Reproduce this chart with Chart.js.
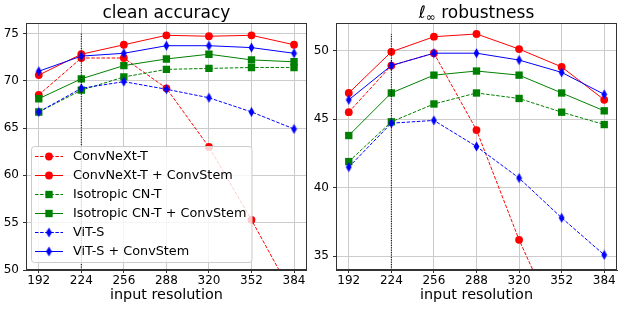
<!DOCTYPE html>
<html>
<head>
<meta charset="utf-8">
<script src="https://cdn.jsdelivr.net/npm/chart.js@4/dist/chart.umd.min.js"></script>
<style>
  body { margin: 0; background: #fff; }
  #wrap { position: relative; width: 623px; height: 309px; }
  #graficoLimpio { position: absolute; left: 0; top: 0; }
  #graficoRobusto { position: absolute; left: 310px; top: 0; }
</style>
</head>
<body>
<div id="wrap">
  <canvas id="graficoLimpio" width="312" height="309"></canvas>
  <canvas id="graficoRobusto" width="313" height="309"></canvas>
</div>
<script>
// Datos
const resoluciones = [192, 224, 256, 288, 320, 352, 384];
const etiquetas = ['ConvNeXt-T', 'ConvNeXt-T + ConvStem', 'Isotropic CN-T',
                   'Isotropic CN-T + ConvStem', 'ViT-S', 'ViT-S + ConvStem'];

// clean accuracy
const limpioConvnext     = [68.5, 72.4, 72.4, 69.2, 63.0, 55.3, 47.1];
const limpioConvnextStem = [70.6, 72.8, 73.8, 74.8, 74.7, 74.8, 73.8];
const limpioIso          = [66.7, 69.0, 70.4, 71.2, 71.3, 71.4, 71.4];
const limpioIsoStem      = [68.1, 70.2, 71.6, 72.3, 72.8, 72.2, 72.0];
const limpioVit          = [66.7, 69.2, 69.9, 69.1, 68.2, 66.7, 64.9];
const limpioVitStem      = [71.0, 72.6, 72.9, 73.7, 73.7, 73.5, 72.9];

// l-inf robustness
const robustoConvnext     = [45.5, 48.9, 49.8, 44.2, 36.2, 29.4, 22.5];
const robustoConvnextStem = [46.9, 49.9, 51.0, 51.2, 50.1, 48.8, 46.4];
const robustoIso          = [41.9, 44.8, 46.1, 46.9, 46.5, 45.5, 44.6];
const robustoIsoStem      = [43.8, 46.9, 48.2, 48.5, 48.2, 46.9, 45.6];
const robustoVit          = [41.5, 44.7, 44.9, 43.0, 40.7, 37.8, 35.1];
const robustoVitStem      = [46.4, 48.9, 49.8, 49.8, 49.3, 48.4, 46.8];

const ticksLimpio = [50, 55, 60, 65, 70, 75];
const ticksRobusto = [35, 40, 45, 50];

// resolucion de referencia (linea punteada vertical)
const resolucionBase = 224;
const lineaBaseLimpio = [50, 75];
const lineaBaseRobusto = [34, 51.2];

const FUENTE = 'DejaVu Sans';
const colores = ['#ff0000', '#ff0000', '#008000', '#008000', '#0000ff', '#0000ff'];
const punteadas = [true, false, true, false, true, false];

function diamanteFino(color) {
    const c = document.createElement('canvas');
    c.width = 7; c.height = 11;
    const g = c.getContext('2d');
    g.fillStyle = color;
    g.beginPath();
    g.moveTo(3.5, 0.5); g.lineTo(6.4, 5.5); g.lineTo(3.5, 10.5); g.lineTo(0.6, 5.5);
    g.closePath();
    g.fill();
    return c;
}
const diamante = diamanteFino('#0000ff');
const marcadores = ['circle', 'circle', 'rect', 'rect', diamante, diamante];
const radios = [3.9, 3.9, 5.2, 5.2, 4, 4];

function armarDatasets(series, lineaBase) {
    let ds = series.map((vals, i) => ({
        label: etiquetas[i],
        data: resoluciones.map((r, j) => ({ x: r, y: vals[j] })),
        borderColor: colores[i],
        backgroundColor: colores[i],
        borderWidth: 1,
        borderDash: punteadas[i] ? [3.5, 1.6] : [],
        pointStyle: marcadores[i],
        pointRadius: radios[i],
        pointBorderWidth: 0,
        pointBackgroundColor: colores[i],
        tension: 0,
        order: 7 - i
    }));
    ds.push({
        label: '',
        data: lineaBase.map(v => ({ x: resolucionBase, y: v })),
        borderColor: '#000',
        borderWidth: 1,
        borderDash: [1.2, 1.2],
        pointRadius: 0,
        order: 0
    });
    return ds;
}

// marco, titulo y leyenda dibujados a mano
const extras = {
    id: 'extras',
    afterDraw(chart, args, opts) {
        const ctx = chart.ctx;
        const a = chart.chartArea;
        ctx.save();
        ctx.strokeStyle = '#333';
        ctx.lineWidth = 1;
        ctx.strokeRect(Math.round(a.left) + 0.5, Math.round(a.top) + 0.5,
                       Math.round(a.right - a.left) - 1, Math.round(a.bottom - a.top) - 1);

        // titulo
        const cx = (a.left + a.right) / 2;
        ctx.fillStyle = '#000';
        ctx.textBaseline = 'alphabetic';
        ctx.font = '17px "' + FUENTE + '"';
        if (opts.sub) {
            const w1 = ctx.measureText(opts.titulo).width;
            const w3 = ctx.measureText(opts.resto).width;
            ctx.font = '12px "' + FUENTE + '"';
            const w2 = ctx.measureText(opts.sub).width;
            let x = cx - (w1 + w2 + w3) / 2;
            ctx.textAlign = 'left';
            ctx.font = '17px "' + FUENTE + '"';
            ctx.fillText(opts.titulo, x, 18);
            ctx.font = '12px "' + FUENTE + '"';
            ctx.fillText(opts.sub, x + w1, 21);
            ctx.font = '17px "' + FUENTE + '"';
            ctx.fillText(opts.resto, x + w1 + w2, 18);
        } else {
            ctx.textAlign = 'center';
            ctx.fillText(opts.titulo, cx, 18);
        }

        // leyenda
        if (opts.leyenda) {
            const L = { x: 31.5, y: 146.5, w: 220.5, h: 116 };
            ctx.beginPath();
            ctx.roundRect(L.x, L.y, L.w, L.h, 3);
            ctx.fillStyle = 'rgba(255,255,255,0.8)';
            ctx.fill();
            ctx.strokeStyle = '#cccccc';
            ctx.stroke();
            ctx.font = '12.8px "' + FUENTE + '"';
            ctx.textAlign = 'left';
            ctx.textBaseline = 'middle';
            etiquetas.forEach((txt, i) => {
                const y = 156.5 + i * 19;
                ctx.strokeStyle = colores[i];
                ctx.lineWidth = 1;
                ctx.setLineDash(punteadas[i] ? [3.5, 1.6] : []);
                ctx.beginPath();
                ctx.moveTo(35, y);
                ctx.lineTo(63, y);
                ctx.stroke();
                ctx.setLineDash([]);
                ctx.fillStyle = colores[i];
                Chart.helpers.drawPoint(ctx, {
                    pointStyle: marcadores[i], radius: radios[i], rotation: 0, borderWidth: 0
                }, 49, y);
                ctx.fillStyle = '#000';
                ctx.fillText(txt, 73, y + 0.5);
            });
        }
        ctx.restore();
    }
};

function opciones(yMin, yMax, yTicks, padDer, extrasOpts) {
    return {
        responsive: false,
        animation: false,
        layout: { padding: { top: 23, right: padDer, bottom: 0, left: 0 } },
        plugins: {
            legend: { display: false },
            tooltip: { enabled: false },
            extras: extrasOpts
        },
        scales: {
            x: {
                type: 'linear',
                min: 182.4,
                max: 393.6,
                afterBuildTicks: s => { s.ticks = resoluciones.map(v => ({ value: v })); },
                afterFit: s => { s.height = 39; },
                grid: { color: '#cccccc', tickColor: '#333', tickLength: 3 },
                border: { color: '#333' },
                ticks: {
                    color: '#000', padding: 1, maxRotation: 0, autoSkip: false,
                    font: { family: FUENTE, size: 12 },
                    callback: v => String(v)
                },
                title: {
                    display: true, text: 'input resolution', color: '#000',
                    font: { family: FUENTE, size: 14.4 },
                    padding: { top: 0, bottom: 5 }
                }
            },
            y: {
                min: yMin,
                max: yMax,
                afterBuildTicks: s => { s.ticks = yTicks.map(v => ({ value: v })); },
                afterFit: s => { s.width = 26; },
                grid: { color: '#cccccc', tickColor: '#333', tickLength: 3 },
                border: { color: '#333' },
                ticks: {
                    color: '#000', padding: 4,
                    font: { family: FUENTE, size: 12 },
                    callback: v => String(v)
                }
            }
        }
    };
}

new Chart(document.getElementById('graficoLimpio'), {
    type: 'line',
    data: {
        datasets: armarDatasets([limpioConvnext, limpioConvnextStem, limpioIso,
                                 limpioIsoStem, limpioVit, limpioVitStem], lineaBaseLimpio)
    },
    options: opciones(50, 76.1, ticksLimpio, 5, { titulo: 'clean accuracy', leyenda: true }),
    plugins: [extras]
});

new Chart(document.getElementById('graficoRobusto'), {
    type: 'line',
    data: {
        datasets: armarDatasets([robustoConvnext, robustoConvnextStem, robustoIso,
                                 robustoIsoStem, robustoVit, robustoVitStem], lineaBaseRobusto)
    },
    options: opciones(34, 52, ticksRobusto, 6, { titulo: 'ℓ', sub: '∞', resto: ' robustness', leyenda: false }),
    plugins: [extras]
});
</script>
</body>
</html>
